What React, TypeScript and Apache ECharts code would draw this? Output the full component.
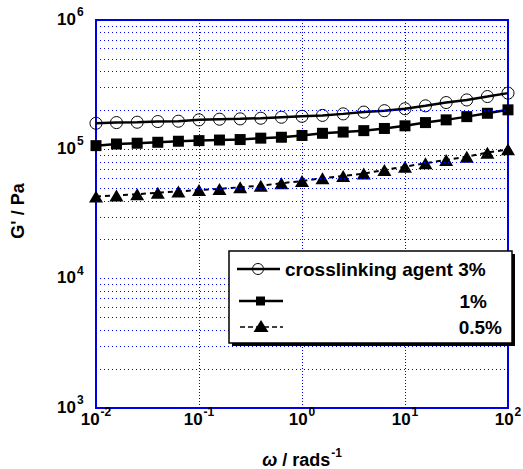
import React, { useEffect, useRef } from "react";
import * as echarts from "echarts";

const omega = [0.01, 0.0158, 0.0251, 0.0398, 0.0631, 0.1, 0.158, 0.251, 0.398, 0.631, 1, 1.58, 2.51, 3.98, 6.31, 10, 15.8, 25.1, 39.8, 63.1, 100];
const g3 = [1.59e5, 1.61e5, 1.62e5, 1.64e5, 1.65e5, 1.69e5, 1.71e5, 1.72e5, 1.74e5, 1.77e5, 1.8e5, 1.83e5, 1.88e5, 1.94e5, 1.99e5, 2.06e5, 2.17e5, 2.3e5, 2.41e5, 2.56e5, 2.72e5];
const g1 = [1.068e5, 1.1e5, 1.115e5, 1.134e5, 1.155e5, 1.168e5, 1.18e5, 1.19e5, 1.22e5, 1.24e5, 1.28e5, 1.33e5, 1.36e5, 1.395e5, 1.45e5, 1.52e5, 1.61e5, 1.69e5, 1.79e5, 1.9e5, 2.02e5];
const g05 = [4.31e4, 4.4e4, 4.5e4, 4.62e4, 4.73e4, 4.85e4, 4.94e4, 5.09e4, 5.24e4, 5.47e4, 5.69e4, 5.98e4, 6.23e4, 6.49e4, 6.93e4, 7.35e4, 7.81e4, 8.28e4, 8.78e4, 9.43e4, 1.0e5];
const minorY = [2e3, 3e3, 4e3, 5e3, 6e3, 7e3, 8e3, 9e3, 2e4, 3e4, 4e4, 5e4, 6e4, 7e4, 8e4, 9e4, 2e5, 3e5, 4e5, 5e5, 6e5, 7e5, 8e5, 9e5];
const xTicks = [0.01, 0.1, 1, 10, 100];
const yTicks = [1e3, 1e4, 1e5, 1e6];
const legendNames = ["crosslinking agent 3%", "1%", "0.5%"];

const FONT = "Liberation Sans";
const BLUE = "#0000dd";
const DOT = "#0000ff";
const BASE_SIZE = 17;
const SUP_SIZE = 12;

export default function App() {
  const ref = useRef<HTMLDivElement>(null);
  useEffect(() => {
    if (!ref.current) return;
    const chart = echarts.init(ref.current, null, { renderer: "svg" });
    const pts = (ys: number[]) => omega.map((x, i) => [x, ys[i]]);
    chart.setOption({
      animation: false,
      backgroundColor: "#fff",
      grid: { left: 96, top: 20, width: 412, height: 388, show: true, borderColor: BLUE, borderWidth: 2, backgroundColor: "transparent", outerBoundsMode: "none", containLabel: false },
      xAxis: {
        type: "log",
        logBase: 10,
        min: 0.01,
        max: 100,
        axisLine: { show: false },
        axisTick: { show: false },
        axisLabel: { show: false },
        splitLine: { show: true, lineStyle: { color: DOT, type: [1, 2], width: 1 } },
      },
      yAxis: {
        type: "log",
        logBase: 10,
        min: 1e3,
        max: 1e6,
        axisLine: { show: false },
        axisTick: { show: false },
        axisLabel: { show: false },
        splitLine: { show: true, lineStyle: { color: DOT, type: [1, 3], width: 1 } },
      },
      series: [
        {
          type: "line",
          data: [],
          z: 1,
          silent: true,
          markLine: {
            silent: true,
            symbol: ["none", "none"],
            label: { show: false },
            lineStyle: { color: DOT, type: [1, 3], width: 1 },
            data: minorY.map((v) => ({ yAxis: v })),
          },
        },
        {
          name: legendNames[0],
          type: "line",
          data: pts(g3),
          symbol: "circle",
          symbolSize: 12,
          lineStyle: { color: "#000", width: 2.5 },
          itemStyle: { color: "transparent", borderColor: "#000", borderWidth: 1 },
          z: 3,
        },
        {
          name: legendNames[1],
          type: "line",
          data: pts(g1),
          symbol: "rect",
          symbolSize: 11,
          lineStyle: { color: "#000", width: 2.5 },
          itemStyle: { color: "#000" },
          z: 3,
        },
        {
          name: legendNames[2],
          type: "line",
          data: pts(g05),
          symbol: "triangle",
          symbolSize: [14, 12],
          lineStyle: { color: "#000", width: 2, type: [5, 4] },
          itemStyle: { color: "#000" },
          z: 3,
        },
      ],
    });

    const canvas = document.createElement("canvas");
    const ctx = canvas.getContext("2d");
    const measure = (t: string, size: number, italic = false) => {
      if (!ctx) return t.length * size * 0.55;
      ctx.font = `${italic ? "italic " : ""}bold ${size}px "${FONT}"`;
      return ctx.measureText(t).width;
    };
    const txt = (x: number, y: number, text: string, size: number, align: string, extra: any = {}) => ({
      type: "text",
      z: 20,
      x,
      y,
      style: { text, fontSize: size, fontWeight: "bold", fontFamily: FONT, fill: "#000", align, verticalAlign: "middle", ...extra },
    });

    const tickEls: any[] = [];
    yTicks.forEach((v) => {
      const py = chart.convertToPixel({ yAxisIndex: 0 }, v) as number;
      const e = String(Math.round(Math.log10(v)));
      tickEls.push(txt(76, py - 1, "10", BASE_SIZE, "right"));
      tickEls.push(txt(77, py - 8, e, SUP_SIZE, "left"));
    });
    xTicks.forEach((v) => {
      const px = chart.convertToPixel({ xAxisIndex: 0 }, v) as number;
      const e = String(Math.round(Math.log10(v)));
      const wb = measure("10", BASE_SIZE);
      const ws = measure(e, SUP_SIZE) + 1;
      const left = px - (wb + ws) / 2;
      tickEls.push(txt(left, 419, "10", BASE_SIZE, "left"));
      tickEls.push(txt(left + wb + 1, 412, e, SUP_SIZE, "left"));
    });

    // axis titles
    const nameSize = 18;
    const wW = measure("ω", nameSize, true);
    const wR = measure(" / rads", nameSize);
    const wS = measure("-1", SUP_SIZE) + 1;
    const cx = (chart.convertToPixel({ xAxisIndex: 0 }, 0.1) as number + (chart.convertToPixel({ xAxisIndex: 0 }, 10) as number)) / 2;
    const nl = cx - (wW + wR + wS) / 2;
    tickEls.push(txt(nl, 460, "ω", nameSize, "left", { fontStyle: "italic" }));
    tickEls.push(txt(nl + wW, 460, " / rads", nameSize, "left"));
    tickEls.push(txt(nl + wW + wR + 1, 453, "-1", SUP_SIZE, "left"));
    tickEls.push({
      type: "text",
      z: 20,
      x: 18,
      y: 211,
      rotation: Math.PI / 2,
      style: { text: "G' / Pa", fontSize: 18, fontWeight: "bold", fontFamily: FONT, fill: "#000", align: "center", verticalAlign: "middle" },
    });

    const legX = 229, legY = 251, legW = 283, legH = 92;
    const rows = [269, 301, 327];
    const legendEls = [
      { type: "rect", z: 10, shape: { x: legX + 3, y: legY + 3, width: legW, height: legH }, style: { fill: "#000" } },
      { type: "rect", z: 11, shape: { x: legX, y: legY, width: legW, height: legH }, style: { fill: "#fff", stroke: "#000", lineWidth: 1.5 } },
      { type: "line", z: 12, shape: { x1: 237, y1: rows[0], x2: 280, y2: rows[0] }, style: { stroke: "#000", lineWidth: 2.5 } },
      { type: "circle", z: 12, shape: { cx: 258, cy: rows[0], r: 5.5 }, style: { fill: "none", stroke: "#000", lineWidth: 1 } },
      { type: "line", z: 12, shape: { x1: 239, y1: rows[1], x2: 283, y2: rows[1] }, style: { stroke: "#000", lineWidth: 2.5 } },
      { type: "rect", z: 12, shape: { x: 256, y: rows[1] - 4.5, width: 9, height: 9 }, style: { fill: "#000" } },
      { type: "line", z: 12, shape: { x1: 240, y1: rows[2], x2: 283, y2: rows[2] }, style: { stroke: "#000", lineWidth: 1.5, lineDash: [5, 3] } },
      { type: "polygon", z: 12, shape: { points: [[261, rows[2] - 7], [268.5, rows[2] + 5], [253.5, rows[2] + 5]] }, style: { fill: "#000" } },
      txt(285, rows[0], legendNames[0], 19, "left"),
      txt(487, rows[1], legendNames[1], 19, "right"),
      txt(502, rows[2], legendNames[2], 19, "right"),
    ];

    chart.setOption({ graphic: [...legendEls, ...tickEls] });
    return () => chart.dispose();
  }, []);
  return <div ref={ref} style={{ position: "fixed", left: 0, top: 0, width: 523, height: 469 }} />;
}
